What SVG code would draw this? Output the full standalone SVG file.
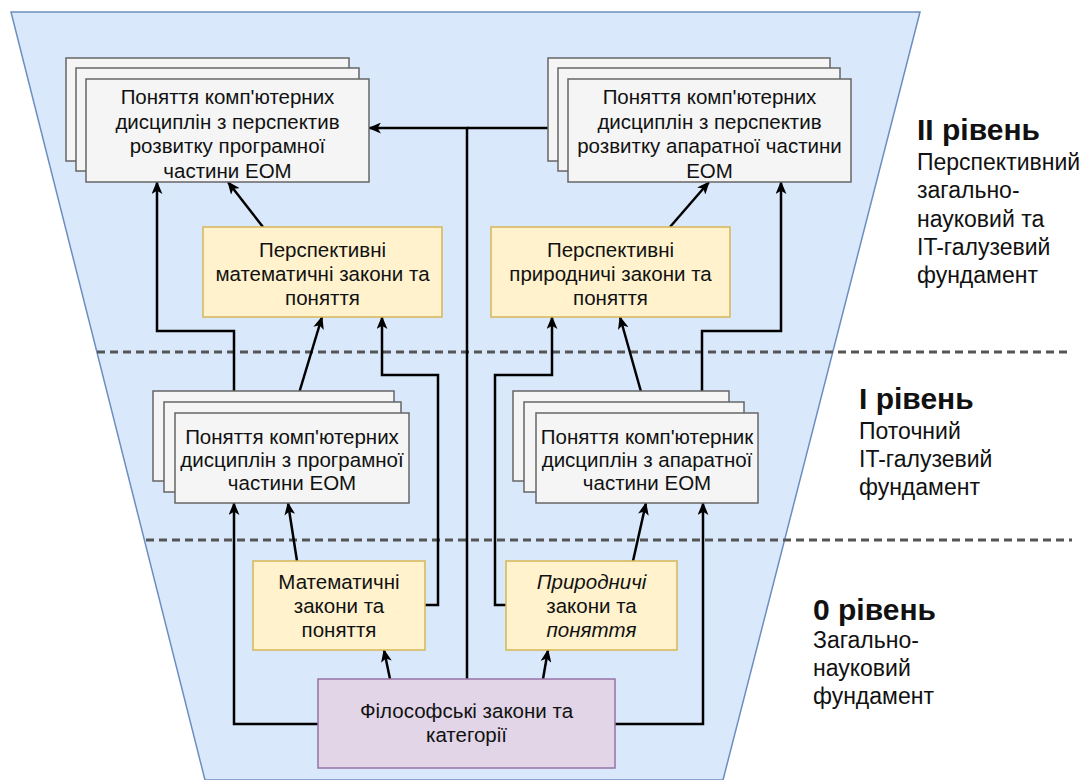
<svg xmlns="http://www.w3.org/2000/svg" width="1088" height="780" viewBox="0 0 1088 780">
<defs>
<style>
text{font-family:"Liberation Sans",Arial,sans-serif;fill:#111;}
.bt{font-size:20.5px;text-anchor:middle;}
.it{font-style:italic;}
.hd{font-size:30px;font-weight:bold;}
.sb{font-size:23px;}
.g{fill:#f5f5f5;stroke:#666;stroke-width:1.5;}
.y{fill:#fff2cc;stroke:#d6b656;stroke-width:1.5;}
.p{fill:#e1d5e7;stroke:#9673a6;stroke-width:1.5;}
.c{fill:none;stroke:#000;stroke-width:2.5;marker-end:url(#arr);}
.d{fill:none;stroke:#555;stroke-width:3;stroke-dasharray:8 5;}
</style>
<marker id="arr" viewBox="0 0 12 10" refX="11" refY="5" markerWidth="13" markerHeight="11" markerUnits="userSpaceOnUse" orient="auto">
<path d="M0,0 L12,5 L0,10 L3,5 z" fill="#000"/>
</marker>
</defs>
<rect width="1088" height="780" fill="#fff"/>
<polygon id="funnel" points="11,12 920,12 723,780 205,780" fill="#dae8fc" stroke="#6c8ebf" stroke-width="1.5"/>
<g id="levels">
<line class="d" x1="97" y1="352" x2="1072" y2="352"/>
<line class="d" x1="146" y1="540" x2="1072" y2="540"/>
</g>
<g id="connectors">
<path class="c" d="M467,679 V128 H369"/>
<path class="c" d="M467,128 H568"/>
<path class="c" d="M390,679 L384,650"/>
<path class="c" d="M543,679 L548,650"/>
<path class="c" d="M318,724 H234 V503"/>
<path class="c" d="M615,724 H703 V503"/>
<path class="c" d="M297,561 L288,503"/>
<path class="c" d="M633,561 L646,503"/>
<path class="c" d="M425,605 H438 V375 H382 V317"/>
<path class="c" d="M506,605 H495 V375 H552 V317"/>
<path class="c" d="M234,413 V331 H157 V182"/>
<path class="c" d="M293,413 L322,317"/>
<path class="c" d="M702,413 V331 H781 V182"/>
<path class="c" d="M647,413 L620,317"/>
<path class="c" d="M263,227 L228,182"/>
<path class="c" d="M670,227 L709,182"/>
</g>
<g id="top-left">
<rect class="g" x="66" y="58" width="283" height="103"/>
<rect class="g" x="76" y="68" width="283" height="103"/>
<rect class="g" x="86" y="79" width="283" height="103"/>
<text class="bt"><tspan x="227.5" y="104">Поняття комп'ютерних</tspan><tspan x="227.5" y="128.5">дисциплін з перспектив</tspan><tspan x="227.5" y="153">розвитку програмної</tspan><tspan x="227.5" y="177.5">частини ЕОМ</tspan></text>
</g>
<g id="top-right">
<rect class="g" x="548" y="58" width="282" height="103"/>
<rect class="g" x="558" y="68" width="282" height="103"/>
<rect class="g" x="568" y="79" width="283" height="103"/>
<text class="bt"><tspan x="709.5" y="104">Поняття комп'ютерних</tspan><tspan x="709.5" y="128.5">дисциплін з перспектив</tspan><tspan x="709.5" y="153">розвитку апаратної частини</tspan><tspan x="709.5" y="177.5">ЕОМ</tspan></text>
</g>
<g id="persp-math">
<rect class="y" x="203" y="227" width="239" height="90"/>
<text class="bt"><tspan x="322.5" y="257">Перспективні</tspan><tspan x="322.5" y="281">математичні закони та</tspan><tspan x="322.5" y="305">поняття</tspan></text>
</g>
<g id="persp-nat">
<rect class="y" x="491" y="227" width="239" height="90"/>
<text class="bt"><tspan x="610.5" y="257">Перспективні</tspan><tspan x="610.5" y="281">природничі закони та</tspan><tspan x="610.5" y="305">поняття</tspan></text>
</g>
<g id="mid-left">
<rect class="g" x="153" y="391" width="241" height="90"/>
<rect class="g" x="164" y="402" width="237" height="90"/>
<rect class="g" x="175" y="413" width="234" height="90"/>
<text class="bt"><tspan x="292" y="444">Поняття комп'ютерних</tspan><tspan x="292" y="467">дисциплін з програмної</tspan><tspan x="292" y="490">частини ЕОМ</tspan></text>
</g>
<g id="mid-right">
<rect class="g" x="513" y="391" width="216" height="90"/>
<rect class="g" x="524" y="402" width="220" height="90"/>
<rect class="g" x="536" y="413" width="222" height="90"/>
<text class="bt"><tspan x="647" y="444">Поняття комп'ютерник</tspan><tspan x="647" y="467">дисциплін з апаратної</tspan><tspan x="647" y="490">частини ЕОМ</tspan></text>
</g>
<g id="math">
<rect class="y" x="253" y="561" width="172" height="89"/>
<text class="bt"><tspan x="339" y="589">Математичні</tspan><tspan x="339" y="613">закони та</tspan><tspan x="339" y="637">поняття</tspan></text>
</g>
<g id="nat">
<rect class="y" x="506" y="561" width="171" height="89"/>
<text class="bt"><tspan class="it" x="591.5" y="589">Природничі</tspan><tspan x="591.5" y="613">закони та</tspan><tspan class="it" x="591.5" y="637">поняття</tspan></text>
</g>
<g id="philo">
<rect class="p" x="318" y="679" width="297" height="89"/>
<text class="bt"><tspan x="466.5" y="718">Філософські закони та</tspan><tspan x="466.5" y="742">категорії</tspan></text>
</g>
<g id="level2">
<text class="hd" x="917" y="140">II рівень</text>
<text class="sb"><tspan x="917" y="170">Перспективний</tspan><tspan x="917" y="198">загально-</tspan><tspan x="917" y="226.5">науковий та</tspan><tspan x="917" y="255">IT-галузевий</tspan><tspan x="917" y="283">фундамент</tspan></text>
</g>
<g id="level1">
<text class="hd" x="859" y="409">I рівень</text>
<text class="sb"><tspan x="859" y="439">Поточний</tspan><tspan x="859" y="467">IT-галузевий</tspan><tspan x="859" y="495">фундамент</tspan></text>
</g>
<g id="level0">
<text class="hd" x="813" y="620">0 рівень</text>
<text class="sb"><tspan x="813" y="648">Загально-</tspan><tspan x="813" y="676">науковий</tspan><tspan x="813" y="704">фундамент</tspan></text>
</g>
</svg>
